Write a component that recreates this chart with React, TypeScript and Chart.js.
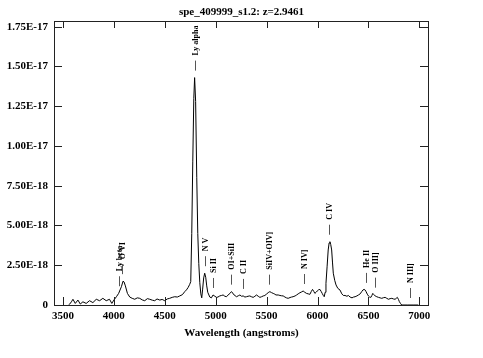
import React, { useEffect, useRef } from 'react';
import { Chart, registerables } from 'chart.js';

Chart.register(...registerables);

const TITLE = 'spe_409999_s1.2: z=2.9461';
const REDSHIFT = 2.9461;
const X_LABEL = 'Wavelength (angstroms)';

// observed wavelength (Å)
const wavelength = [
  3555, 3565, 3583, 3598, 3621, 3647, 3670, 3696, 3728, 3761,
  3794, 3827, 3860, 3892, 3925, 3957, 3980, 4000, 4025, 4047,
  4074, 4090, 4100, 4113, 4133, 4156, 4180, 4205, 4230, 4254,
  4279, 4303, 4329, 4352, 4379, 4401, 4424, 4451, 4474, 4500,
  4524, 4548, 4573, 4598, 4623, 4647, 4673, 4696, 4713, 4729,
  4745, 4755, 4765, 4775, 4785, 4793, 4803, 4814, 4824, 4834,
  4844, 4854, 4863, 4872, 4882, 4892, 4902, 4912, 4922, 4942,
  4958, 4974, 4992, 5008, 5022, 5040, 5057, 5073, 5090, 5106,
  5132, 5156, 5181, 5205, 5222, 5238, 5254, 5270, 5287, 5302,
  5318, 5335, 5351, 5368, 5385, 5401, 5418, 5434, 5451, 5467,
  5483, 5500, 5516, 5532, 5548, 5565, 5581, 5592, 5614, 5631,
  5646, 5663, 5680, 5695, 5712, 5730, 5745, 5760, 5780, 5795,
  5810, 5827, 5843, 5859, 5875, 5892, 5909, 5925, 5939, 5951,
  5964, 5974, 5986, 5997, 6009, 6024, 6036, 6046, 6057, 6066,
  6075, 6083, 6094, 6105, 6114, 6122, 6130, 6139, 6147, 6155,
  6169, 6182, 6199, 6221, 6239, 6254, 6270, 6289, 6303, 6320,
  6339, 6354, 6369, 6387, 6402, 6419, 6435, 6447, 6458, 6467,
  6477, 6489, 6500, 6512, 6524, 6534, 6543, 6554, 6566, 6582,
  6599, 6615, 6631, 6648, 6664, 6680, 6697, 6713, 6730, 6746,
  6762, 6773, 6784, 6795, 6804, 6815, 6827, 6887, 6947, 6990,
];

// flux in units of 1E-18
const flux = [
  0, 0.05, 0.2, 0.36, 0.1, 0.31, 0.06, 0.2, 0.1, 0.27,
  0.15, 0.36, 0.27, 0.42, 0.27, 0.36, 0.1, 0.31, 0.52, 0.73,
  1.15, 1.5, 1.45, 1.2, 0.73, 0.5, 0.42, 0.36, 0.45, 0.42,
  0.32, 0.27, 0.4, 0.36, 0.3, 0.27, 0.38, 0.31, 0.35, 0.27,
  0.38, 0.42, 0.48, 0.52, 0.5, 0.57, 0.65, 0.84, 0.95, 1.1,
  1.3, 1.47, 4.5, 9.0, 13.0, 14.3, 12.8, 8.0, 4.5, 2.6,
  1.4, 0.7, 0.45, 1.0, 1.7, 2.0, 1.75, 1.2, 0.8, 0.5,
  0.45, 0.63, 0.55, 0.48, 0.5, 0.57, 0.6, 0.63, 0.55, 0.52,
  0.69, 0.84, 0.63, 0.52, 0.58, 0.63, 0.55, 0.57, 0.5, 0.52,
  0.55, 0.57, 0.52, 0.48, 0.55, 0.63, 0.55, 0.48, 0.52, 0.57,
  0.6, 0.69, 0.78, 0.84, 0.78, 0.73, 0.68, 0.63, 0.63, 0.6,
  0.58, 0.57, 0.5, 0.45, 0.42, 0.47, 0.5, 0.52, 0.57, 0.63,
  0.7, 0.77, 0.82, 0.88, 0.8, 0.73, 0.7, 0.67, 0.85, 0.98,
  0.85, 0.73, 0.8, 0.88, 0.95, 0.98, 0.85, 0.73, 0.6, 0.52,
  0.8, 1.36, 2.4, 3.46, 3.9, 3.98, 3.8, 3.46, 2.7, 2.0,
  1.55, 1.26, 1.05, 0.94, 0.7, 0.6, 0.6, 0.55, 0.6, 0.5,
  0.45, 0.5, 0.52, 0.57, 0.63, 0.7, 0.85, 0.95, 0.98, 0.95,
  0.84, 0.68, 0.57, 0.5, 0.48, 0.6, 0.73, 0.65, 0.57, 0.52,
  0.48, 0.45, 0.42, 0.46, 0.48, 0.42, 0.36, 0.4, 0.42, 0.38,
  0.36, 0.42, 0.48, 0.35, 0.21, 0.1, 0, 0, 0, 0,
];

const xTicks = [3500, 4000, 4500, 5000, 5500, 6000, 6500, 7000];
const yTicks = [0, 2.5, 5, 7.5, 10, 12.5, 15, 17.5];
const yTickLabels = ['0', '2.50E-18', '5.00E-18', '7.50E-18', '1.00E-17', '1.25E-17', '1.50E-17', '1.75E-17'];

// emission line identifications (rest wavelength, Å)
const lineNames = ['Ly beta', 'O VI', 'Ly alpha', 'N V', 'Si II', 'OI+SiII', 'C II', 'SiIV+OIV]', 'N IV]', 'C IV', 'He II', 'O III]', 'N III]'];
const lineRest = [1025.7, 1033.8, 1215.7, 1240.1, 1260.4, 1305.0, 1335.3, 1400.0, 1486.5, 1549.1, 1640.4, 1663.0, 1750.0];

const FONT = '"Liberation Serif", "DejaVu Serif", serif';

const framePlugin = {
  id: 'frame',
  afterDraw(chart: any) {
    const ctx = chart.ctx as CanvasRenderingContext2D;
    const { left, right, top, bottom } = chart.chartArea;
    const xs = chart.scales.x;
    const ys = chart.scales.y;
    ctx.save();
    ctx.strokeStyle = '#222';
    ctx.lineWidth = 1;
    ctx.strokeRect(left + 0.5, top + 0.5, right - left - 1, bottom - top);
    ctx.beginPath();
    xTicks.forEach((v) => {
      const px = Math.round(xs.getPixelForValue(v)) + 0.5;
      ctx.moveTo(px, bottom);
      ctx.lineTo(px, bottom - 8);
      ctx.moveTo(px, top);
      ctx.lineTo(px, top + 7);
    });
    yTicks.forEach((v) => {
      const py = Math.round(ys.getPixelForValue(v)) + 0.5;
      ctx.moveTo(left, py);
      ctx.lineTo(left + 8, py);
      ctx.moveTo(right, py);
      ctx.lineTo(right - 9, py);
    });
    ctx.stroke();

    // title
    ctx.fillStyle = '#000';
    ctx.font = `bold 11px ${FONT}`;
    ctx.textAlign = 'center';
    ctx.textBaseline = 'middle';
    ctx.fillText(TITLE, (left + right) / 2, 12);

    // line identifications
    ctx.font = `bold 8px ${FONT}`;
    lineNames.forEach((name, i) => {
      const obs = lineRest[i] * (1 + REDSHIFT);
      let fmax = 0;
      wavelength.forEach((w, j) => {
        if (Math.abs(w - obs) <= 15 && flux[j] > fmax) fmax = flux[j];
      });
      for (let j = 0; j < wavelength.length - 1; j++) {
        if (wavelength[j] <= obs && wavelength[j + 1] >= obs) {
          const t = (obs - wavelength[j]) / (wavelength[j + 1] - wavelength[j]);
          fmax = Math.max(fmax, flux[j] + t * (flux[j + 1] - flux[j]));
        }
      }
      const px = Math.round(xs.getPixelForValue(obs)) + 0.5;
      const base = ys.getPixelForValue(fmax) - 7;
      ctx.strokeStyle = '#555';
      ctx.beginPath();
      ctx.moveTo(px, base);
      ctx.lineTo(px, base - 10);
      ctx.stroke();
      ctx.save();
      ctx.translate(px, base - 15);
      ctx.rotate(-Math.PI / 2);
      ctx.textAlign = 'left';
      ctx.textBaseline = 'middle';
      ctx.fillStyle = '#000';
      ctx.fillText(name, 0, 0);
      ctx.restore();
    });
    ctx.restore();
  },
};

export default function App() {
  const ref = useRef<HTMLCanvasElement>(null);
  useEffect(() => {
    const tickFont = { family: FONT, weight: 'bold' as const, size: 11 };
    const chart = new Chart(ref.current!, {
      type: 'line',
      data: {
        datasets: [
          {
            data: wavelength.map((w, i) => ({ x: w, y: flux[i] })),
            borderColor: '#000',
            borderWidth: 1,
            pointRadius: 0,
            tension: 0,
            fill: false,
          },
        ],
      },
      options: {
        animation: false,
        responsive: false,
        devicePixelRatio: 1,
        layout: { padding: { top: 21, right: 54, left: 0, bottom: 0 } },
        plugins: {
          legend: { display: false },
          tooltip: { enabled: false },
          title: { display: false },
        },
        scales: {
          x: {
            type: 'linear',
            min: 3412,
            max: 7095,
            grid: { display: false, drawTicks: false },
            border: { display: false },
            afterBuildTicks: (s: any) => {
              s.ticks = xTicks.map((v) => ({ value: v }));
            },
            afterFit: (s: any) => {
              s.height = 53;
            },
            ticks: {
              padding: 5,
              color: '#000',
              font: tickFont,
              maxRotation: 0,
              autoSkip: false,
              callback: (v: any) => String(v),
            },
            title: {
              display: true,
              text: X_LABEL,
              color: '#000',
              font: tickFont,
              padding: { top: 0, bottom: 18 },
            },
          },
          y: {
            type: 'linear',
            min: 0,
            max: 17.86,
            grid: { display: false, drawTicks: false },
            border: { display: false },
            afterBuildTicks: (s: any) => {
              s.ticks = yTicks.map((v) => ({ value: v }));
            },
            afterFit: (s: any) => {
              s.width = 54;
            },
            ticks: {
              padding: 6,
              color: '#000',
              font: tickFont,
              autoSkip: false,
              callback: (v: any) => yTickLabels[yTicks.indexOf(Number(v))] ?? '',
            },
          },
        },
      },
      plugins: [framePlugin],
    } as any);
    return () => chart.destroy();
  }, []);
  return (
    <div style={{ position: 'absolute', left: 0, top: 0, width: 483, height: 358, background: '#fff' }}>
      <canvas ref={ref} width={483} height={358} style={{ width: 483, height: 358, display: 'block' }} />
    </div>
  );
}
